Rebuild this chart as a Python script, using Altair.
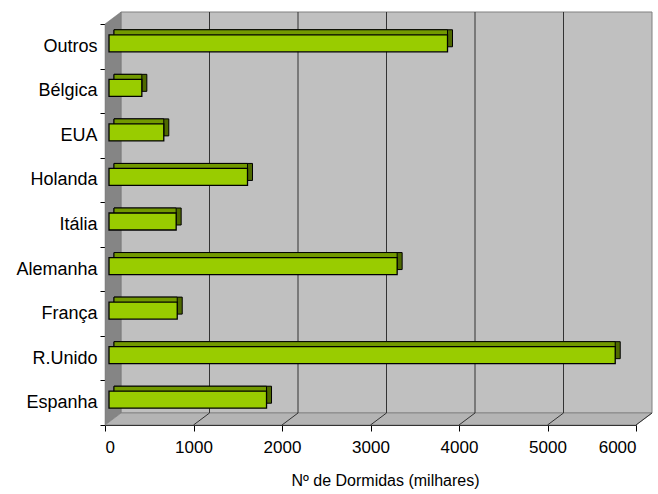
import altair as alt
import pandas as pd

# ---- data ----
countries = ["Outros", "Bélgica", "EUA", "Holanda", "Itália", "Alemanha", "França", "R.Unido", "Espanha"]
values = [3825, 371, 619, 1565, 759, 3256, 771, 5720, 1780]
ticks = [0, 1000, 2000, 3000, 4000, 5000, 6000]
axis_title = "Nº de Dormidas (milhares)"

# ---- style / geometry constants ----
W, H = 531, 401          # front plot area
DX, DY = 16, 12          # wall depth
BX, BY = 4, -3           # bar front-face offset (depth position)
BDX, BDY = 5, -5         # bar depth
BAR = 17
FONT = "Liberation Sans"
STROKE = "#000000"

bars = pd.DataFrame({"pais": countries, "valor": values, "zero": [0] * len(values)})
grid = pd.DataFrame({"t": [t for t in ticks if 0 < t < ticks[-1]]})
diag = pd.DataFrame({"t": [t for t in ticks if t > 0]})

xs = alt.Scale(domain=[ticks[0], ticks[-1]], nice=False)
ys = alt.Scale(domain=countries, paddingInner=0, paddingOuter=0)

xaxis = alt.Axis(values=ticks, grid=False, title=axis_title, format="d",
                 labelFont=FONT, labelFontSize=17, labelColor="black", labelPadding=8,
                 tickColor="black", tickSize=6, domainColor="black",
                 titleFont=FONT, titleFontSize=16, titleFontWeight="normal", titleColor="black",
                 titleBaseline="alphabetic", titleY=60, titleX=280, titleAnchor="middle")
yaxis = alt.Axis(title=None, tickBand="extent", labelFont=FONT, labelFontSize=18,
                 labelColor="black", labelPadding=3, tickSize=5,
                 tickColor="black", domainColor="black")

# ---- decorative 3D walls (pixel space) ----
back_df = pd.DataFrame({"px": [DX], "px2": [W + DX], "py": [-DY], "py2": [H - DY]})
left_df = pd.DataFrame({"px": [0, DX], "py": [0, -DY], "py2": [H, H - DY]})
floor_df = pd.DataFrame({"py": [H - DY, H], "px": [DX, 0], "px2": [W + DX, W]})

back_wall = alt.Chart(back_df).mark_rect(fill="#C0C0C0", stroke="#808080", strokeWidth=1).encode(
    x=alt.X("px:Q", scale=None, axis=None), x2="px2:Q",
    y=alt.Y("py:Q", scale=None, axis=None), y2="py2:Q")
left_wall = alt.Chart(left_df).mark_area(orient="vertical", fill="#858585", stroke="#707070", strokeWidth=0.5).encode(
    x=alt.X("px:Q", scale=None, axis=None),
    y=alt.Y("py:Q", scale=None, axis=None), y2="py2:Q")
floor = alt.Chart(floor_df).mark_area(orient="horizontal", fill="#B4B4B4", stroke="#808080", strokeWidth=0.8).encode(
    y=alt.Y("py:Q", scale=None, axis=None),
    x=alt.X("px:Q", scale=None, axis=None), x2="px2:Q")
decor = alt.layer(back_wall, left_wall, floor)

# ---- data layers ----
gridlines = alt.Chart(grid).mark_rule(color="#333333", strokeWidth=1, xOffset=DX).encode(
    x=alt.X("t:Q", scale=xs, axis=xaxis),
    y=alt.value(-DY), y2=alt.value(H - DY))
floorlines = alt.Chart(diag).mark_rule(color="#333333", strokeWidth=1, x2Offset=DX).encode(
    x=alt.X("t:Q", scale=xs, axis=xaxis), x2="t:Q",
    y=alt.value(H), y2=alt.value(H - DY))

side = alt.Chart(bars).mark_bar(size=BAR, fill="#4F6A00", stroke=STROKE, strokeWidth=1,
                               xOffset=BX + BDX, x2Offset=BX + BDX,
                               yOffset=BY + BDY, y2Offset=BY + BDY).encode(
    x=alt.X("valor:Q", scale=xs, axis=xaxis), x2="zero:Q",
    y=alt.Y("pais:N", sort=countries, scale=ys, axis=yaxis))
top = alt.Chart(bars).mark_bar(size=BAR, fill="#729900", stroke=STROKE, strokeWidth=1,
                              xOffset=BX, x2Offset=BX + BDX,
                              yOffset=BY + BDY, y2Offset=BY + BDY).encode(
    x=alt.X("valor:Q", scale=xs, axis=xaxis), x2="zero:Q",
    y=alt.Y("pais:N", sort=countries, scale=ys, axis=yaxis))
front = alt.Chart(bars).mark_bar(size=BAR, fill="#99CC00", stroke=STROKE, strokeWidth=1.3,
                                xOffset=BX, x2Offset=BX, yOffset=BY, y2Offset=BY).encode(
    x=alt.X("valor:Q", scale=xs, axis=xaxis), x2="zero:Q",
    y=alt.Y("pais:N", sort=countries, scale=ys, axis=yaxis))

data_layer = alt.layer(gridlines, floorlines, side, top, front)

chart = alt.layer(decor, data_layer).resolve_scale(x="independent", y="independent").properties(
    width=W, height=H,
    padding={"left": 105, "top": 24, "right": 22, "bottom": 69},
    autosize="none",
    background="white",
).configure_view(stroke=None)

chart.save("out.html", embed_options={"renderer": "svg", "actions": False})
